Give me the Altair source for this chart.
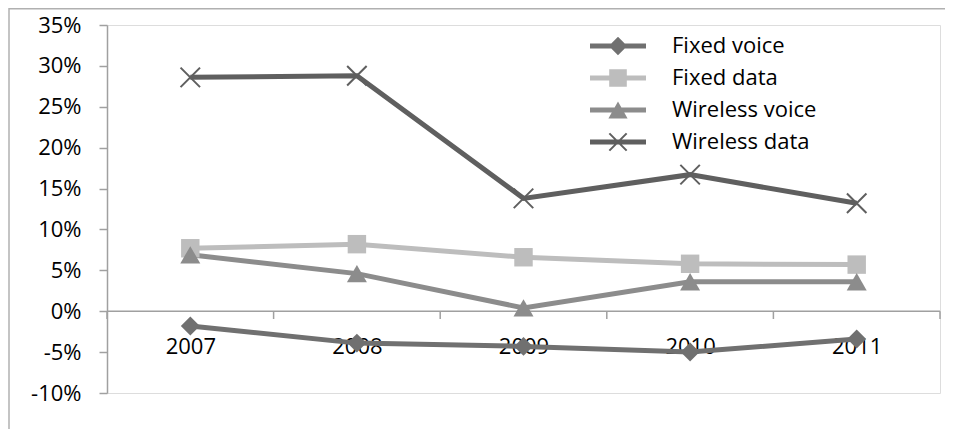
import altair as alt
import pandas as pd

years = [2007, 2008, 2009, 2010, 2011]
series = ["Fixed voice", "Fixed data", "Wireless voice", "Wireless data"]
fixed_voice = [-0.018, -0.039, -0.043, -0.050, -0.034]
fixed_data = [0.077, 0.082, 0.066, 0.058, 0.057]
wireless_voice = [0.069, 0.046, 0.004, 0.036, 0.036]
wireless_data = [0.286, 0.288, 0.138, 0.167, 0.132]
y_ticks = [-0.10, -0.05, 0.0, 0.05, 0.10, 0.15, 0.20, 0.25, 0.30, 0.35]
band_edges = [2006.5, 2007.5, 2008.5, 2009.5, 2010.5, 2011.5]

values_by_series = [fixed_voice, fixed_data, wireless_voice, wireless_data]
colors = ["#707070", "#bdbdbd", "#8c8c8c", "#5f5f5f"]
marker_shapes = ["diamond", "square", "triangle-up", "M-1,-1L1,1M1,-1L-1,1"]
marker_sizes = [360, 340, 400, 380]

rows = []
for s, vals in zip(series, values_by_series):
    for yr, v in zip(years, vals):
        rows.append({"series": s, "year": yr, "value": v})
df = pd.DataFrame(rows)

FONT = "Open Sans"
AXIS_GRAY = "#a0a0a0"

# legend symbols: line segment + marker; symbolSize 256 => 1 unit = 8 px
line_part = "M-3.5,-0.31H3.5V0.31H-3.5Z"
legend_paths = [
    line_part + "M0,-1.15L1.15,0L0,1.15L-1.15,0Z",
    line_part + "M-1.1,-1.1H1.1V1.1H-1.1Z",
    line_part + "M0,-1.05L1.2,1.05H-1.2Z",
    line_part
    + "M-0.99,-1.17L1.17,0.99L0.99,1.17L-1.17,-0.99Z"
    + "M-1.17,0.99L0.99,-1.17L1.17,-0.99L-0.99,1.17Z",
]

x_scale = alt.Scale(domain=[2006.5, 2011.5], nice=False, zero=False)
y_scale = alt.Scale(domain=[-0.10, 0.35], nice=False, zero=False)

one = pd.DataFrame({"a": [0]})

frame_top = alt.Chart(one).mark_rule(color="#b0b0b0", strokeWidth=1.5).encode(
    x=alt.value(-98), x2=alt.value(838), y=alt.value(-16.2)
)
frame_left = alt.Chart(one).mark_rule(color="#b0b0b0", strokeWidth=1.5).encode(
    x=alt.value(-98), y=alt.value(-17), y2=alt.value(404)
)

zero_line = alt.Chart(one).mark_rule(color=AXIS_GRAY, strokeWidth=1.5).encode(
    x=alt.datum(2006.5, scale=x_scale),
    x2=alt.datum(2011.5),
    y=alt.datum(0, scale=y_scale),
)

tick_marks = alt.Chart(pd.DataFrame({"edge": band_edges})).mark_rule(
    color=AXIS_GRAY, strokeWidth=1.5
).encode(
    x=alt.X("edge:Q", scale=x_scale, title=None),
    y=alt.datum(0),
    y2=alt.datum(-0.0095),
)

x_enc = alt.X(
    "year:Q",
    scale=x_scale,
    title=None,
    axis=alt.Axis(
        values=years,
        format="d",
        ticks=False,
        tickSize=0,
        domain=False,
        grid=False,
        labelPadding=25,
        offset=-82,
        labelFontSize=22,
        labelFont=FONT,
        labelColor="black",
    ),
)
y_enc = alt.Y(
    "value:Q",
    scale=y_scale,
    title=None,
    axis=alt.Axis(
        values=y_ticks,
        labelExpr="round(datum.value*100) + '%'",
        tickSize=8,
        tickColor=AXIS_GRAY,
        tickWidth=1.5,
        domainColor=AXIS_GRAY,
        domainWidth=1.5,
        grid=False,
        labelPadding=18,
        labelFontSize=22,
        labelFont=FONT,
        labelColor="black",
    ),
)

layers = [frame_top, frame_left, zero_line, tick_marks]

for s, c in zip(series, colors):
    layers.append(
        alt.Chart(df)
        .transform_filter(alt.datum.series == s)
        .mark_line(color=c, strokeWidth=5)
        .encode(x=x_enc, y=y_enc)
    )

for s, c, shp, sz in zip(series, colors, marker_shapes, marker_sizes):
    if shp.startswith("M"):
        mk = alt.Chart(df).transform_filter(alt.datum.series == s).mark_point(
            shape=shp, size=sz, filled=False, stroke=c, strokeWidth=2, opacity=1
        )
    else:
        mk = alt.Chart(df).transform_filter(alt.datum.series == s).mark_point(
            shape=shp, size=sz, filled=True, color=c, opacity=1
        )
    layers.append(mk.encode(x=x_enc, y=y_enc))

legend = alt.Legend(
    title=None,
    orient="none",
    legendX=500,
    legendY=10,
    labelFontSize=22,
    labelFont=FONT,
    labelColor="black",
    symbolSize=256,
    symbolStrokeWidth=0,
    symbolOpacity=1,
    labelOffset=43,
    rowPadding=10,
    padding=0,
)

carrier = (
    alt.Chart(df)
    .transform_filter("false")
    .mark_point(filled=True, opacity=1)
    .encode(
        color=alt.Color("series:N", scale=alt.Scale(domain=series, range=colors), legend=legend),
        shape=alt.Shape("series:N", scale=alt.Scale(domain=series, range=legend_paths), legend=legend),
    )
)
layers.append(carrier)

chart = (
    alt.layer(*layers)
    .properties(
        width=833,
        height=368,
        autosize=alt.AutoSizeParams(type="none"),
        padding={"left": 99, "top": 17, "right": 7, "bottom": 36},
    )
    .configure_view(stroke=None)
    .configure(font=FONT, background="white")
)

chart.save("out.html", embed_options={"renderer": "svg", "actions": False})
